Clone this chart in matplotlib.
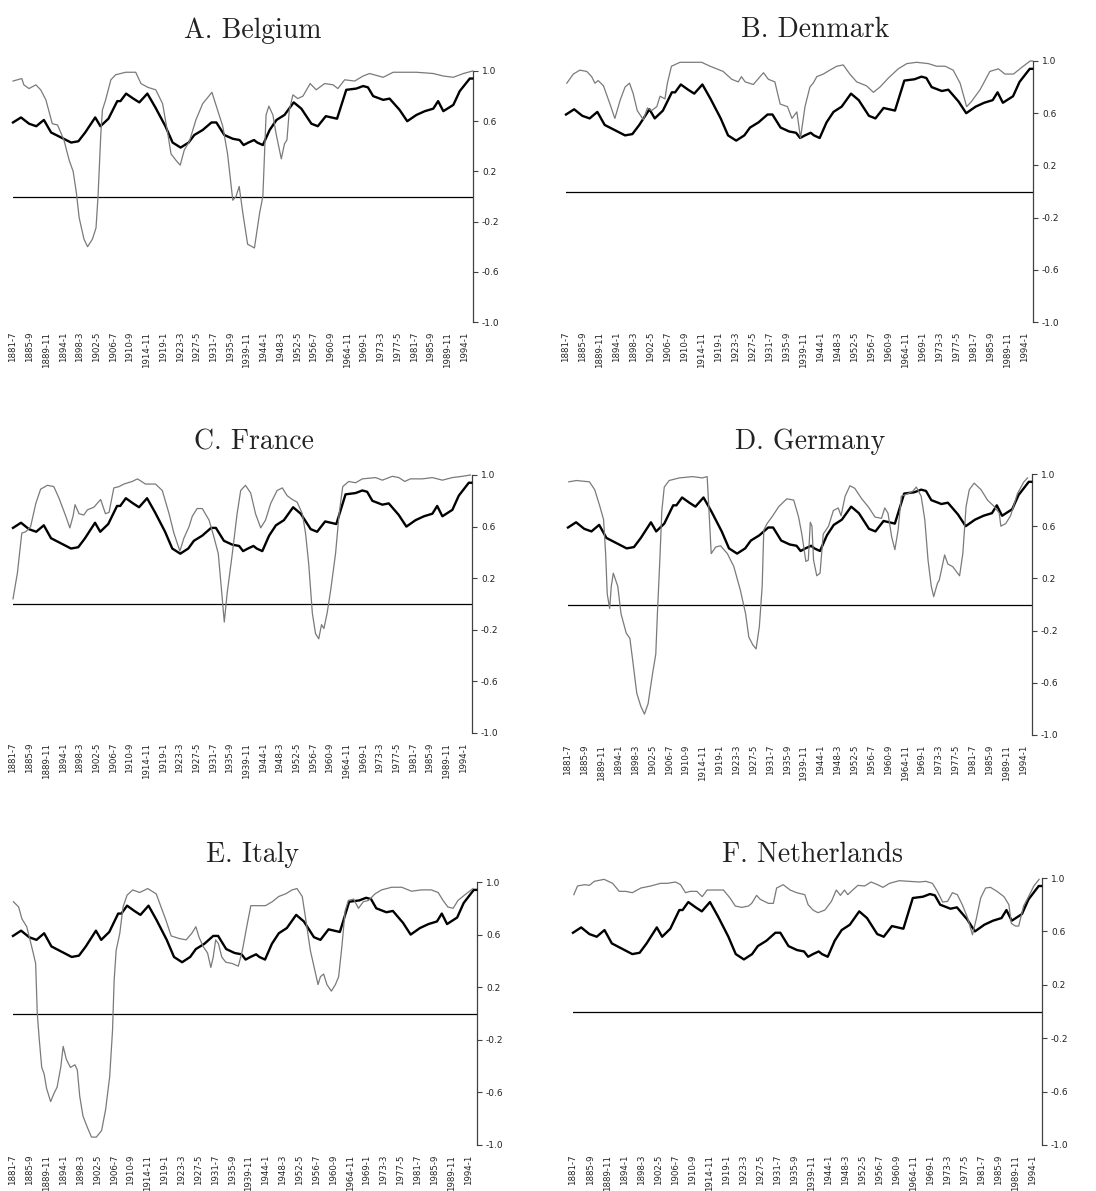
import matplotlib
matplotlib.use("Agg")
import matplotlib.pyplot as plt
import numpy as np

# tick labels of the category axis (year-month)
tick_labels = ["1881-7", "1885-9", "1889-11", "1894-1", "1898-3", "1902-5", "1906-7",
               "1910-9", "1914-11", "1919-1", "1923-3", "1927-5", "1931-7", "1935-9",
               "1939-11", "1944-1", "1948-3", "1952-5", "1956-7", "1960-9", "1964-11",
               "1969-1", "1973-3", "1977-5", "1981-7", "1985-9", "1989-11", "1994-1"]

# common series (thick black line)
avg_yr = [1881.5, 1883.5, 1885.5, 1887.3, 1889.2, 1891.0, 1893.5, 1896.0, 1897.8, 1899.5,
          1902.0, 1903.3, 1905.3, 1907.5, 1908.3, 1909.7, 1911.5, 1913.0, 1915.0, 1917.0,
          1919.5, 1921.3, 1923.3, 1925.3, 1926.7, 1928.8, 1931.0, 1932.2, 1934.2, 1936.3,
          1938.0, 1939.0, 1940.2, 1941.6, 1942.4, 1943.8, 1945.5, 1947.2, 1949.2, 1951.5,
          1953.4, 1955.9, 1957.5, 1959.5, 1962.3, 1964.6, 1967.1, 1968.8, 1970.0, 1971.3,
          1973.8, 1975.4, 1977.9, 1979.8, 1982.1, 1984.2, 1986.3, 1987.5, 1988.8, 1991.3,
          1992.9, 1995.4, 1996.0]
avg_val = [0.59, 0.63, 0.58, 0.56, 0.61, 0.51, 0.47, 0.43, 0.44, 0.51,
           0.63, 0.56, 0.62, 0.76, 0.76, 0.82, 0.78, 0.75, 0.82, 0.71,
           0.56, 0.43, 0.39, 0.43, 0.49, 0.53, 0.59, 0.59, 0.49, 0.46,
           0.45, 0.41, 0.43, 0.45, 0.43, 0.41, 0.53, 0.61, 0.65, 0.75,
           0.70, 0.58, 0.56, 0.64, 0.62, 0.85, 0.86, 0.88, 0.87, 0.80,
           0.77, 0.78, 0.69, 0.60, 0.65, 0.68, 0.70, 0.76, 0.68, 0.73,
           0.84, 0.94, 0.94]

# country series (thin grey line)
bel_yr = [1881.5, 1883.7, 1884.2, 1885.5, 1887.2, 1888.4, 1889.7, 1891.3, 1892.6, 1894.2,
          1895.5, 1896.5, 1897.3, 1898.0, 1899.2, 1900.1, 1901.3, 1902.2, 1902.7, 1903.4,
          1903.8, 1904.6, 1905.9, 1907.1, 1909.6, 1912.1, 1913.4, 1915.1, 1917.1, 1918.8,
          1920.1, 1920.9, 1922.1, 1923.2, 1924.2, 1925.5, 1927.1, 1928.8, 1931.1, 1932.5,
          1933.8, 1935.0, 1936.3, 1937.1, 1937.9, 1938.8, 1940.0, 1941.7, 1943.0, 1943.8,
          1944.6, 1945.3, 1946.3, 1947.1, 1948.4, 1949.2, 1949.8, 1950.4, 1951.3, 1952.5,
          1953.8, 1955.6, 1957.1, 1959.2, 1961.3, 1962.5, 1964.2, 1966.7, 1968.8, 1970.4,
          1973.8, 1976.3, 1982.1, 1986.3, 1988.8, 1991.3, 1993.8, 1996.1]
bel_val = [0.92, 0.94, 0.89, 0.86, 0.89, 0.85, 0.77, 0.58, 0.57, 0.45,
           0.29, 0.20, 0.03, -0.17, -0.34, -0.40, -0.34, -0.25, 0.00, 0.50,
           0.69, 0.77, 0.93, 0.97, 0.99, 0.99, 0.90, 0.87, 0.85, 0.74,
           0.50, 0.34, 0.29, 0.25, 0.37, 0.44, 0.61, 0.74, 0.83, 0.69,
           0.56, 0.34, -0.03, 0.00, 0.08, -0.13, -0.38, -0.41, -0.13, 0.00,
           0.65, 0.72, 0.65, 0.50, 0.30, 0.42, 0.45, 0.69, 0.81, 0.78,
           0.80, 0.90, 0.85, 0.90, 0.89, 0.86, 0.93, 0.92, 0.96, 0.98,
           0.95, 0.99, 0.99, 0.98, 0.96, 0.95, 0.98, 1.00]

den_yr = [1881.7, 1883.3, 1884.9, 1886.6, 1887.8, 1888.6, 1889.4, 1890.7, 1892.3, 1893.5,
          1894.8, 1896.0, 1897.1, 1898.0, 1899.0, 1900.5, 1901.5, 1902.5, 1903.8, 1904.6,
          1905.8, 1906.4, 1907.4, 1909.5, 1912.8, 1914.8, 1916.9, 1920.1, 1922.2, 1923.8,
          1924.6, 1925.5, 1927.5, 1930.0, 1931.2, 1932.8, 1934.1, 1935.9, 1937.0, 1938.2,
          1939.1, 1940.2, 1941.4, 1942.2, 1943.1, 1944.7, 1946.3, 1948.0, 1949.6, 1951.2,
          1952.9, 1955.3, 1957.0, 1958.6, 1960.7, 1963.1, 1965.2, 1967.6, 1970.5, 1972.5,
          1974.6, 1976.6, 1978.3, 1979.9, 1981.1, 1983.2, 1985.6, 1987.7, 1989.3, 1991.4,
          1993.8, 1995.5, 1996.1]
den_val = [0.83, 0.90, 0.93, 0.92, 0.88, 0.83, 0.85, 0.81, 0.67, 0.56,
           0.70, 0.80, 0.83, 0.75, 0.62, 0.55, 0.64, 0.62, 0.65, 0.73,
           0.71, 0.83, 0.96, 0.99, 0.99, 0.99, 0.96, 0.92, 0.86, 0.84,
           0.88, 0.84, 0.82, 0.91, 0.86, 0.84, 0.67, 0.65, 0.56, 0.61,
           0.41, 0.65, 0.80, 0.83, 0.88, 0.90, 0.93, 0.96, 0.97, 0.90,
           0.84, 0.81, 0.76, 0.80, 0.87, 0.94, 0.98, 0.99, 0.98, 0.96,
           0.96, 0.93, 0.83, 0.65, 0.69, 0.78, 0.92, 0.94, 0.90, 0.90,
           0.96, 1.00, 1.00]

fra_yr = [1881.5, 1882.6, 1883.7, 1884.7, 1885.9, 1887.2, 1888.4, 1890.1, 1891.7, 1893.0,
          1894.7, 1895.7, 1896.5, 1897.0, 1898.0, 1899.2, 1900.1, 1901.7, 1903.4, 1904.6,
          1905.5, 1906.7, 1908.0, 1909.2, 1911.3, 1912.6, 1914.6, 1917.1, 1918.8, 1920.5,
          1921.7, 1923.2, 1924.2, 1925.5, 1926.3, 1927.5, 1928.8, 1930.5, 1931.7, 1932.8,
          1933.6, 1934.3, 1935.0, 1936.3, 1937.5, 1938.4, 1939.6, 1940.9, 1942.1, 1943.4,
          1944.6, 1945.9, 1947.5, 1948.8, 1950.0, 1951.3, 1952.5, 1953.8, 1954.6, 1955.4,
          1956.3, 1957.1, 1957.9, 1958.6, 1959.2, 1960.0, 1960.9, 1962.1, 1963.0, 1963.9,
          1965.4, 1967.1, 1968.8, 1972.1, 1973.8, 1976.3, 1977.9, 1979.4, 1980.8, 1983.8,
          1986.3, 1988.8, 1991.3, 1993.8, 1995.8]
fra_val = [0.04, 0.24, 0.55, 0.56, 0.60, 0.78, 0.89, 0.92, 0.91, 0.82,
           0.68, 0.59, 0.68, 0.77, 0.70, 0.69, 0.73, 0.75, 0.81, 0.70,
           0.71, 0.90, 0.91, 0.93, 0.95, 0.97, 0.93, 0.93, 0.88, 0.70,
           0.55, 0.41, 0.51, 0.60, 0.68, 0.74, 0.74, 0.65, 0.52, 0.39,
           0.11, -0.14, 0.08, 0.39, 0.70, 0.88, 0.92, 0.86, 0.70, 0.59,
           0.65, 0.78, 0.88, 0.90, 0.84, 0.81, 0.79, 0.70, 0.55, 0.31,
           -0.07, -0.23, -0.27, -0.16, -0.19, -0.07, 0.11, 0.39, 0.70, 0.91,
           0.95, 0.94, 0.97, 0.98, 0.96, 0.99, 0.98, 0.95, 0.97, 0.97,
           0.98, 0.96, 0.98, 0.99, 1.00]

ger_yr = [1881.7, 1883.6, 1886.8, 1888.1, 1889.3, 1890.3, 1890.8, 1891.2, 1891.8, 1892.2,
          1892.7, 1893.8, 1894.6, 1895.9, 1896.8, 1897.5, 1898.5, 1899.5, 1900.4, 1901.3,
          1902.4, 1903.2, 1903.6, 1904.2, 1904.7, 1905.3, 1906.5, 1909.0, 1912.3, 1914.7,
          1915.9, 1916.3, 1916.9, 1918.0, 1919.2, 1920.9, 1922.5, 1924.1, 1925.4, 1926.2,
          1927.2, 1928.0, 1928.8, 1929.5, 1929.9, 1930.7, 1931.9, 1933.6, 1935.6, 1937.3,
          1938.5, 1939.3, 1940.3, 1940.9, 1941.4, 1941.8, 1942.2, 1943.0, 1943.8, 1944.6,
          1945.9, 1947.1, 1948.3, 1949.0, 1950.0, 1951.2, 1952.4, 1954.1, 1955.7, 1957.4,
          1959.0, 1959.8, 1960.6, 1961.5, 1962.3, 1963.1, 1963.9, 1965.6, 1966.8, 1967.6,
          1968.8, 1969.7, 1970.5, 1971.3, 1971.9, 1972.8, 1973.3, 1974.6, 1975.4, 1976.6,
          1978.3, 1979.1, 1979.9, 1980.7, 1981.9, 1983.6, 1985.2, 1986.9, 1988.1, 1988.5,
          1989.7, 1990.9, 1992.6, 1994.2, 1995.1]
ger_val = [0.94, 0.95, 0.94, 0.88, 0.76, 0.65, 0.39, 0.08, -0.03, 0.14,
           0.24, 0.14, -0.07, -0.22, -0.26, -0.43, -0.68, -0.78, -0.84, -0.76,
           -0.53, -0.38, -0.07, 0.34, 0.72, 0.90, 0.95, 0.97, 0.98, 0.97,
           0.98, 0.75, 0.39, 0.44, 0.45, 0.39, 0.29, 0.11, -0.07, -0.25,
           -0.31, -0.34, -0.17, 0.14, 0.57, 0.62, 0.67, 0.75, 0.81, 0.80,
           0.67, 0.54, 0.33, 0.34, 0.63, 0.60, 0.34, 0.22, 0.24, 0.54,
           0.60, 0.72, 0.74, 0.68, 0.83, 0.91, 0.89, 0.81, 0.75, 0.67,
           0.66, 0.74, 0.70, 0.52, 0.42, 0.57, 0.83, 0.85, 0.87, 0.90,
           0.83, 0.65, 0.34, 0.14, 0.06, 0.16, 0.19, 0.38, 0.31, 0.29,
           0.22, 0.39, 0.75, 0.88, 0.93, 0.88, 0.80, 0.75, 0.70, 0.60,
           0.62, 0.68, 0.85, 0.94, 0.97]

ita_yr = [1881.6, 1882.9, 1883.7, 1884.9, 1885.7, 1886.5, 1887.1, 1887.5, 1888.0, 1888.6,
          1889.2, 1889.8, 1890.8, 1891.6, 1892.4, 1893.3, 1893.9, 1894.7, 1895.7, 1896.8,
          1897.4, 1898.0, 1898.8, 1899.8, 1900.9, 1902.1, 1903.4, 1904.4, 1905.4, 1906.1,
          1906.5, 1907.0, 1907.9, 1908.7, 1909.7, 1911.1, 1912.8, 1914.8, 1916.9, 1918.1,
          1919.3, 1920.6, 1922.6, 1924.3, 1925.7, 1926.7, 1927.5, 1928.5, 1929.6, 1930.4,
          1931.0, 1931.6, 1932.3, 1933.1, 1934.1, 1935.7, 1937.2, 1938.2, 1939.4, 1940.3,
          1941.9, 1943.9, 1945.6, 1947.2, 1948.9, 1950.5, 1951.7, 1953.0, 1953.8, 1955.0,
          1956.1, 1956.9, 1957.5, 1958.3, 1959.1, 1960.2, 1961.2, 1962.0, 1962.8, 1963.6,
          1964.4, 1965.7, 1966.9, 1968.1, 1969.4, 1971.0, 1972.6, 1975.1, 1977.6, 1980.0,
          1982.5, 1984.9, 1986.6, 1987.8, 1989.0, 1990.3, 1991.5, 1993.1, 1995.2]
ita_val = [0.85, 0.81, 0.72, 0.66, 0.56, 0.46, 0.38, 0.00, -0.20, -0.41,
           -0.46, -0.57, -0.67, -0.61, -0.56, -0.41, -0.25, -0.35, -0.41, -0.39,
           -0.43, -0.63, -0.78, -0.86, -0.94, -0.94, -0.89, -0.73, -0.48, -0.13,
           0.25, 0.48, 0.61, 0.81, 0.90, 0.94, 0.92, 0.95, 0.91, 0.81,
           0.71, 0.59, 0.57, 0.56, 0.61, 0.66, 0.58, 0.51, 0.46, 0.35,
           0.43, 0.56, 0.53, 0.43, 0.39, 0.38, 0.36, 0.48, 0.68, 0.82,
           0.82, 0.82, 0.85, 0.89, 0.91, 0.94, 0.95, 0.89, 0.73, 0.48,
           0.33, 0.22, 0.28, 0.30, 0.22, 0.17, 0.22, 0.28, 0.51, 0.78,
           0.86, 0.87, 0.80, 0.85, 0.86, 0.91, 0.94, 0.96, 0.96, 0.93,
           0.94, 0.94, 0.92, 0.86, 0.81, 0.80, 0.86, 0.90, 0.95]

ned_yr = [1881.7, 1882.6, 1884.3, 1885.5, 1886.7, 1889.1, 1891.2, 1892.8, 1894.4, 1896.0,
          1898.1, 1900.5, 1902.9, 1904.5, 1906.6, 1907.8, 1909.0, 1910.2, 1911.8, 1913.1,
          1914.3, 1915.9, 1918.3, 1919.9, 1921.2, 1922.8, 1924.4, 1925.2, 1926.4, 1927.3,
          1929.3, 1930.5, 1931.3, 1932.9, 1934.6, 1936.2, 1938.2, 1939.0, 1940.2, 1941.4,
          1943.1, 1944.7, 1945.9, 1946.9, 1947.9, 1948.7, 1949.9, 1951.2, 1952.8, 1954.4,
          1956.0, 1957.3, 1958.9, 1961.3, 1963.7, 1966.2, 1967.8, 1969.4, 1970.6, 1971.9,
          1973.1, 1974.3, 1975.5, 1976.7, 1977.9, 1979.2, 1980.1, 1981.2, 1982.4, 1983.6,
          1985.2, 1986.9, 1988.1, 1988.7, 1989.7, 1990.5, 1991.7, 1992.9, 1994.2, 1995.5]
ned_val = [0.875, 0.94, 0.95, 0.945, 0.975, 0.99, 0.96, 0.90, 0.90, 0.89,
           0.925, 0.94, 0.96, 0.96, 0.97, 0.95, 0.89, 0.90, 0.90, 0.86,
           0.91, 0.91, 0.91, 0.85, 0.79, 0.78, 0.79, 0.81, 0.87, 0.84,
           0.81, 0.81, 0.925, 0.95, 0.91, 0.89, 0.875, 0.80, 0.76, 0.74,
           0.76, 0.825, 0.91, 0.87, 0.91, 0.875, 0.91, 0.945, 0.94, 0.97,
           0.95, 0.93, 0.96, 0.98, 0.975, 0.97, 0.975, 0.96, 0.90, 0.82,
           0.825, 0.89, 0.875, 0.80, 0.71, 0.575, 0.69, 0.85, 0.925, 0.93,
           0.90, 0.86, 0.80, 0.66, 0.64, 0.64, 0.79, 0.86, 0.94, 0.99]

titles = ["A. Belgium", "B. Denmark", "C. France", "D. Germany", "E. Italy", "F. Netherlands"]
series = [(bel_yr, bel_val), (den_yr, den_val), (fra_yr, fra_val),
          (ger_yr, ger_val), (ita_yr, ita_val), (ned_yr, ned_val)]
yticks = [1.0, 0.6, 0.2, -0.2, -0.6, -1.0]

W, H = 1096, 1191
# plot areas in pixels: left, top, right, bottom
boxes = [(13, 71, 473, 322), (566, 61, 1033, 322),
         (13, 475, 472, 733), (568, 474, 1032, 735),
         (13, 882, 477, 1145), (573, 878, 1042, 1145)]
title_pos = [(253, 38), (815, 37), (254, 449), (810, 449), (252, 862), (812, 862)]

tick_pos = []
for lab in tick_labels:
    y, m = lab.split("-")
    tick_pos.append(int(y) + (int(m) - 1) / 12)

fig = plt.figure(figsize=(W / 100, H / 100), dpi=100)
fig.patch.set_facecolor("white")

for i in range(6):
    l, t, r, b = boxes[i]
    ax = fig.add_axes([l / W, 1 - b / H, (r - l) / W, (b - t) / H])
    ax.plot(avg_yr, avg_val, color="black", lw=1.7, zorder=3, clip_on=False)
    ax.plot(series[i][0], series[i][1], color="#7a7a7a", lw=0.9, zorder=4, clip_on=False)
    ax.axhline(0, color="black", lw=0.9, zorder=2)
    ax.set_xlim(1881.5, 1996.2)
    ax.set_ylim(-1.0, 1.0)
    for s in ["left", "top", "bottom"]:
        ax.spines[s].set_visible(False)
    ax.spines["right"].set_color("#404040")
    ax.spines["right"].set_linewidth(0.9)
    ax.yaxis.tick_right()
    ax.set_yticks(yticks)
    ax.set_yticklabels(["%.1f" % v for v in yticks])
    ax.tick_params(axis="y", direction="out", length=3.5, width=0.8, color="#404040",
                   labelsize=6.5, pad=3, labelcolor="#222222")
    ax.set_xticks(tick_pos)
    ax.set_xticklabels(tick_labels, rotation=90)
    ax.tick_params(axis="x", length=0, labelsize=6.2, pad=7, labelcolor="#222222")
    tx, ty = title_pos[i]
    fig.text(tx / W, 1 - ty / H, titles[i], fontname="cmr10", fontsize=20,
             ha="center", va="baseline", color="#222222")

fig.savefig("out.png", dpi=100)
